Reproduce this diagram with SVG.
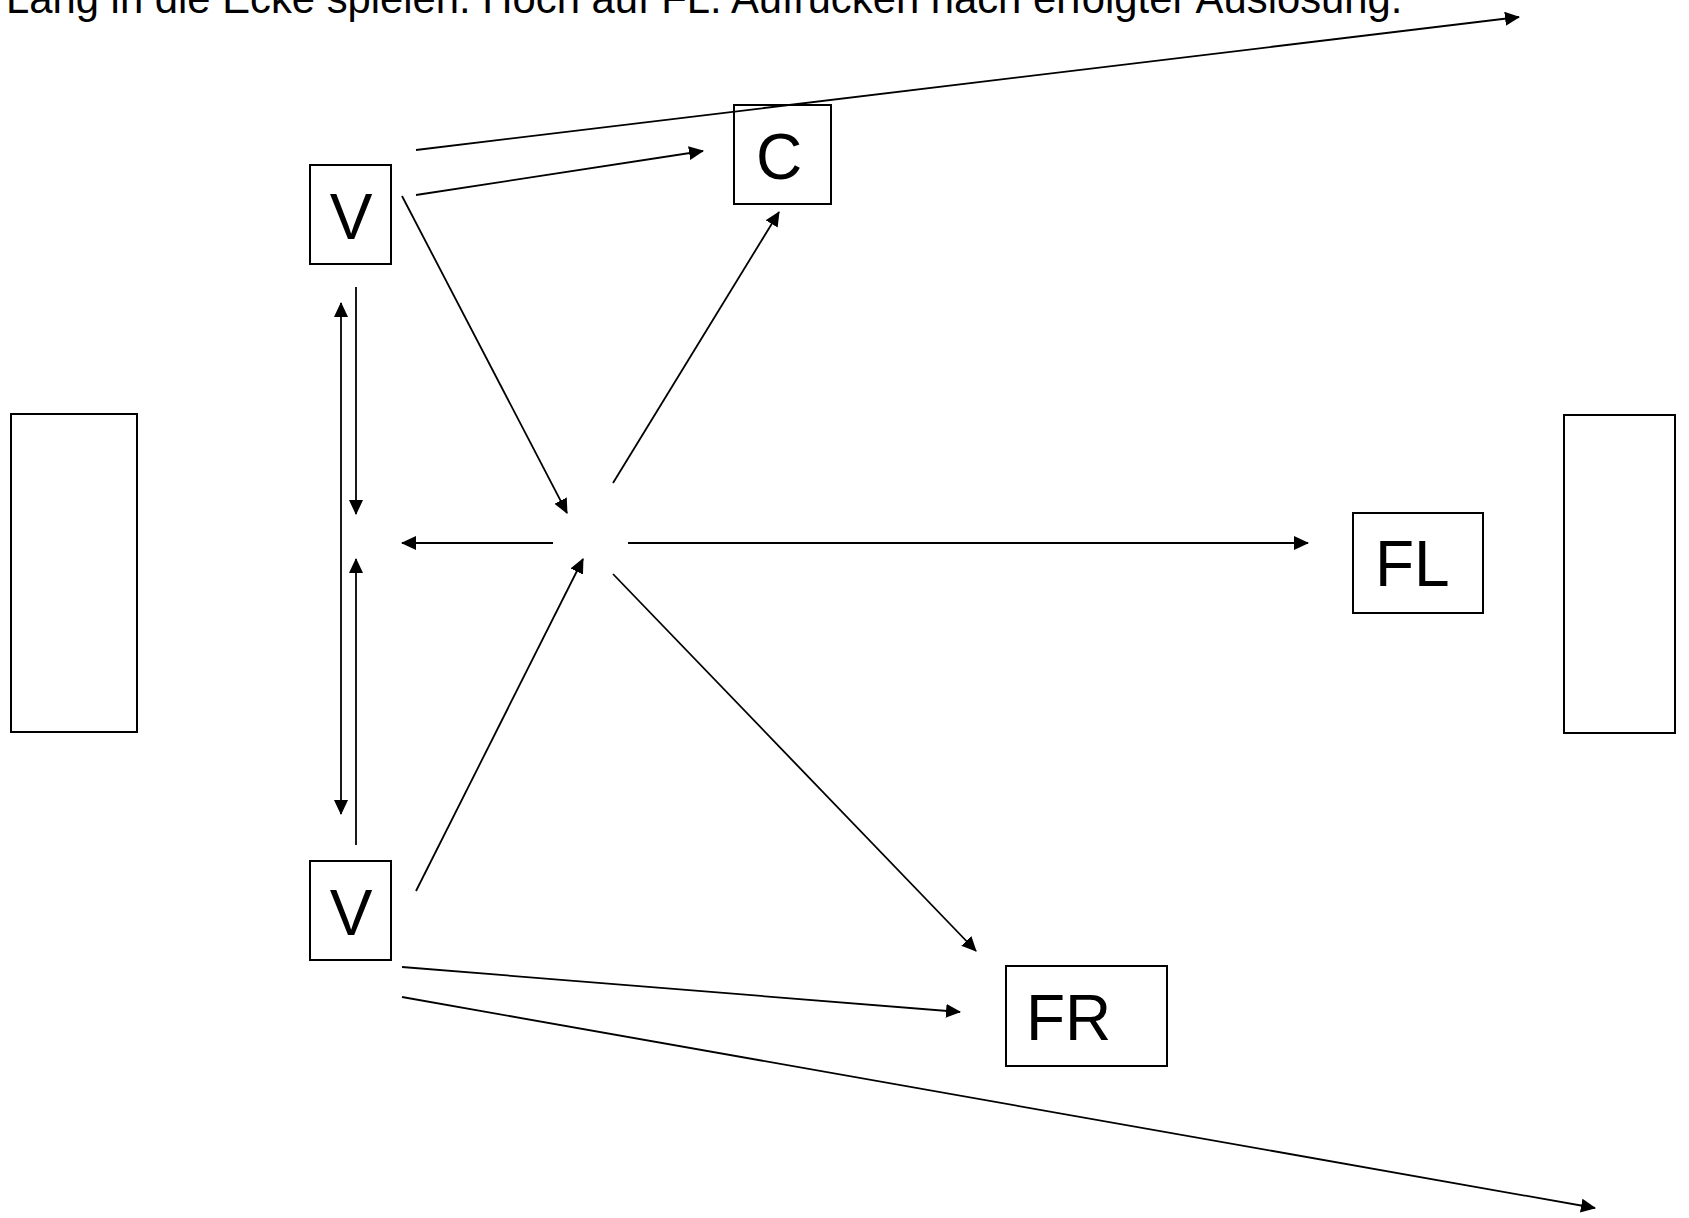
<svg xmlns="http://www.w3.org/2000/svg" width="1689" height="1218" viewBox="0 0 1689 1218">
<style>
.box{fill:#fff;stroke:#000;stroke-width:2}
.lbl{font-family:"Liberation Sans",Arial,sans-serif;font-size:64px;fill:#000}
.title{font-family:"Liberation Sans",Arial,sans-serif;font-size:41.8px;fill:#000}
.c{stroke:#000;stroke-width:1.8;fill:none}
.a{marker-end:url(#ah)}
.d{marker-start:url(#ah);marker-end:url(#ah)}
</style>
<defs>
<marker id="ah" viewBox="0 0 15 14" markerWidth="15" markerHeight="14" refX="14" refY="7" orient="auto-start-reverse" markerUnits="userSpaceOnUse">
<path d="M0,0 L15,7 L0,14 z" fill="#000"/>
</marker>
</defs>
<rect width="1689" height="1218" fill="#fff"/>
<text class="title" x="6" y="13">Lang in die Ecke spielen. Hoch auf FL. Aufrücken nach erfolgter Auslösung.</text>
<g id="goal-left"><rect class="box" x="11" y="414" width="126" height="318"/></g>
<g id="goal-right"><rect class="box" x="1564" y="415" width="111" height="318"/></g>
<g id="v-top"><rect class="box" x="310" y="165" width="81" height="99"/><text class="lbl" x="351" y="239" text-anchor="middle">V</text></g>
<g id="c"><rect class="box" x="734" y="105" width="97" height="99"/><text class="lbl" x="779" y="179" text-anchor="middle">C</text></g>
<g id="fl"><rect class="box" x="1353" y="513" width="130" height="100"/><text class="lbl" x="1375" y="586">FL</text></g>
<g id="v-bottom"><rect class="box" x="310" y="861" width="81" height="99"/><text class="lbl" x="351" y="935" text-anchor="middle">V</text></g>
<g id="fr"><rect class="box" x="1006" y="966" width="161" height="100"/><text class="lbl" x="1026" y="1040">FR</text></g>
<g id="connectors">
<line class="c a" x1="416" y1="150" x2="1519" y2="17"/>
<line class="c a" x1="416" y1="195" x2="703" y2="151"/>
<line class="c a" x1="402" y1="196" x2="567" y2="513"/>
<line class="c a" x1="613" y1="483" x2="779" y2="212"/>
<line class="c a" x1="553" y1="543" x2="402" y2="543"/>
<line class="c a" x1="628" y1="543" x2="1308" y2="543"/>
<line class="c a" x1="613" y1="574" x2="976" y2="951"/>
<line class="c a" x1="416" y1="891" x2="583" y2="559"/>
<line class="c a" x1="402" y1="967" x2="960" y2="1012"/>
<line class="c a" x1="402" y1="997" x2="1595" y2="1208"/>
<line class="c a" x1="356" y1="287" x2="356" y2="514"/>
<line class="c a" x1="356" y1="845" x2="356" y2="559"/>
<line class="c d" x1="341" y1="303" x2="341" y2="814"/>
</g>
</svg>
